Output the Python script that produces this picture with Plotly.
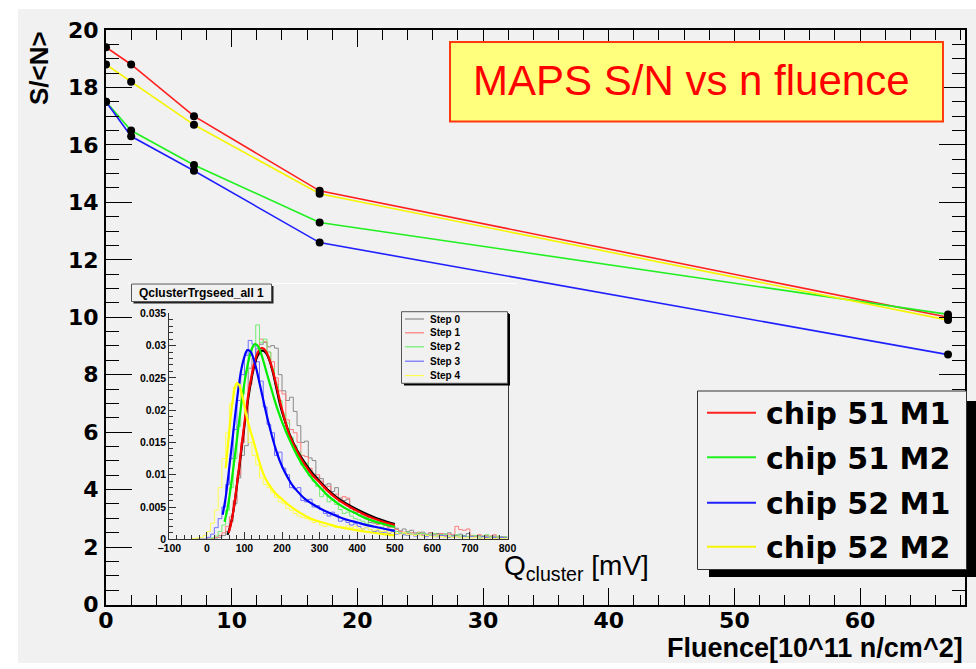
import plotly.graph_objects as go

W, H = 976, 669


def fx(p):
    return p / W


def fy(p):
    return 1 - p / H


# ---------------- main graph: S/<N> vs fluence ----------------
fluence = [0, 2, 7, 17, 67]
sn_chip51_m1 = [19.4, 18.8, 17.0, 14.4, 10.0]
sn_chip51_m2 = [17.5, 16.5, 15.3, 13.3, 10.1]
sn_chip52_m1 = [17.5, 16.3, 15.1, 12.6, 8.7]
sn_chip52_m2 = [18.8, 18.2, 16.7, 14.3, 9.9]

series_names = ["chip 51 M1", "chip 51 M2", "chip 52 M1", "chip 52 M2"]
series_values = [sn_chip51_m1, sn_chip51_m2, sn_chip52_m1, sn_chip52_m2]
series_colors = ["#ff2020", "#20f020", "#2020ff", "#f5f500"]

# ---------------- inset: cluster charge distributions ----------------
step_names = ["Step 0", "Step 1", "Step 2", "Step 3", "Step 4"]
hist_colors = ["#8a8a8a", "#ff7a7a", "#74ec74", "#6f6fff", "#ffff50"]
fit_colors = ["#000000", "#ff0000", "#00ee00", "#0000ff", "#ffff00"]

q_bin_width = 10
q_first_edge = -40
# normalised counts per 10 mV bin (units of 1e-3), bins from -40 to 800 mV
hist_step0 = [0, 0, 0, 0, 0, 0, 0.2,
              0.3, 0.6, 1.2, 2.8, 5.5, 9.5, 13.0,
              14.5, 26.5, 28.0, 29.5, 30.2, 30.5, 29.8, 30.0, 29.6, 25.5,
              23.0, 21.5, 22.0, 19.8, 17.6, 15.0, 15.2, 12.6, 12.2, 9.6,
              9.4, 8.4, 8.6, 7.4, 8.0, 6.4, 6.0, 6.2, 4.8, 4.0,
              4.2, 3.6, 3.4, 2.6, 2.5, 2.4, 2.5, 2.2, 2.0, 2.1,
              1.7, 1.3, 1.6, 1.2, 1.4, 1.0, 0.9, 1.1, 0.8, 1.0,
              0.8, 0.9, 0.7, 0.8, 1.0, 0.7, 0.6, 0.8, 0.5, 0.9,
              0.6, 0.5, 0.6, 0.4, 0.5, 0.4, 0.5, 0.3, 0.4, 0.3]
hist_step1 = [0, 0, 0, 0, 0, 0.1,
              0.3, 0.6, 1.0, 2.0, 3.5, 6.0, 10.0, 15.0,
              19.5, 24.0, 27.0, 28.5, 31.0, 30.6, 29.0, 27.5, 25.0, 23.0,
              22.5, 18.5, 17.0, 16.5, 15.0, 13.0, 12.8, 11.0, 9.8, 10.0,
              9.0, 7.5, 8.2, 6.8, 7.0, 5.8, 6.6, 6.4, 5.0, 4.2,
              4.4, 3.8, 3.2, 3.0, 2.7, 2.3, 2.6, 2.1, 1.8, 1.9,
              1.5, 1.2, 1.1, 0.9, 1.0, 0.8, 1.1, 0.8, 0.7, 1.0,
              0.8, 0.7, 0.9, 0.6, 0.8, 0.7, 2.0, 1.5, 1.4, 1.6,
              0.6, 0.5, 0.7, 0.5, 0.6, 0.5, 0.7, 0.4, 0.3, 0.4]
hist_step2 = [0, 0, 0, 0, 0, 0.2,
              0.5, 1.2, 2.2, 4.5, 8.0, 12.5, 17.5, 22.5,
              26.0, 28.5, 29.8, 33.2, 30.5, 31.0, 29.0, 26.5, 24.0, 21.5,
              19.5, 18.0, 15.8, 14.5, 13.5, 11.5, 11.8, 9.8, 9.0, 8.2,
              6.6, 7.0, 5.8, 6.2, 5.4, 4.6, 4.0, 4.2, 3.6, 3.2,
              3.0, 2.8, 2.5, 2.2, 2.0, 1.8, 1.9, 1.6, 1.4, 1.5,
              1.2, 1.0, 0.9, 1.1, 0.8, 0.7, 1.0, 0.9, 0.7, 0.8,
              0.9, 0.6, 0.7, 0.8, 0.5, 0.6, 0.7, 0.5, 0.6, 0.4,
              0.5, 0.6, 0.4, 0.5, 0.7, 0.4, 0.3, 0.5, 0.3, 0.4]
hist_step3 = [0, 0, 0, 0,
              0.3, 0.8, 1.8, 3.2, 5.0, 8.5, 12.5, 17.0, 21.5, 25.5,
              28.5, 30.8, 30.2, 27.5, 24.5, 20.5, 17.8, 16.5, 13.0, 13.5,
              11.0, 10.0, 8.0, 7.8, 8.0, 6.0, 5.8, 6.2, 5.0, 5.2,
              4.6, 4.0, 3.6, 4.2, 3.8, 2.8, 3.0, 2.6, 2.2, 2.4,
              2.0, 1.6, 1.8, 1.5, 1.2, 1.3, 1.0, 1.1, 0.9, 1.2,
              0.8, 0.9, 0.7, 0.6, 0.8, 0.5, 0.7, 0.6, 0.4, 0.6,
              0.5, 0.4, 0.6, 0.5, 0.3, 0.5, 0.4, 0.3, 0.5, 0.3,
              0.4, 0.3, 0.2, 0.4, 0.3, 0.2, 0.3, 0.2, 0.3, 0.2]
hist_step4 = [0.1, 0.2, 0.3, 0.6,
              1.2, 2.5, 4.5, 8.0, 12.5, 16.5, 21.0, 23.5, 24.0, 21.5,
              18.5, 15.0, 13.0, 11.5, 9.5, 8.5, 8.0, 7.2, 6.5, 5.8,
              5.5, 4.8, 4.5, 4.0, 3.6, 3.4, 3.2, 3.0, 2.6, 2.8,
              2.2, 2.0, 2.3, 2.1, 1.8, 2.0, 1.9, 2.1, 1.8, 2.0,
              1.7, 1.6, 1.8, 1.5, 1.4, 1.5, 1.2, 1.3, 1.0, 1.1,
              0.9, 0.8, 1.0, 0.7, 0.8, 0.6, 0.7, 0.5, 0.6, 0.5,
              0.4, 0.5, 0.4, 0.3, 0.4, 0.3, 0.4, 0.3, 0.2, 0.3,
              0.2, 0.3, 0.2, 0.2, 0.1, 0.2, 0.1, 0.2, 0.1, 0.1]
hists = [hist_step0, hist_step1, hist_step2, hist_step3, hist_step4]

# fitted curves, sampled as (Q [mV], value [1e-3])
fit_step0_q = [55, 62, 70, 78, 86, 94, 102, 110, 118, 126, 134, 142, 150, 158, 166, 175,
               185, 195, 205, 220, 240, 260, 280, 300, 325, 350, 375, 400, 425, 450, 475, 500]
fit_step0_v = [0.7, 2.0, 4.2, 7.5, 11.0, 14.8, 18.5, 21.8, 24.6, 26.8, 28.3, 29.1, 29.2, 28.8,
               27.8, 26.0, 23.4, 20.8, 18.8, 16.3, 13.8, 11.9, 10.3, 9.0, 7.5, 6.3, 5.4, 4.6,
               3.9, 3.3, 2.8, 2.35]
fit_step1_q = [58, 65, 72, 80, 88, 96, 104, 112, 120, 128, 136, 144, 152, 160, 168, 177,
               187, 197, 207, 220, 240, 260, 280, 300, 325, 350, 375, 400, 425, 450, 475, 500]
fit_step1_v = [1.0, 2.6, 5.0, 8.5, 12.3, 16.2, 19.8, 23.0, 25.6, 27.6, 29.0, 29.6, 29.5, 28.8,
               27.6, 25.8, 23.3, 20.8, 18.6, 16.1, 13.6, 11.6, 10.0, 8.8, 7.3, 6.1, 5.2, 4.4,
               3.7, 3.1, 2.6, 2.2]
fit_step2_q = [47, 55, 63, 71, 79, 87, 95, 103, 111, 119, 127, 135, 143, 151, 160, 170,
               180, 190, 200, 220, 240, 260, 280, 300, 325, 350, 375, 400, 425, 450, 475, 500]
fit_step2_v = [2.7, 4.8, 7.8, 11.3, 15.0, 18.8, 22.3, 25.3, 27.7, 29.4, 30.2, 30.0, 29.0, 27.5,
               25.6, 23.6, 21.6, 19.8, 18.2, 15.4, 13.0, 11.0, 9.4, 8.1, 6.6, 5.5, 4.6, 3.9,
               3.2, 2.7, 2.3, 1.9]
fit_step3_q = [42, 50, 57, 64, 71, 78, 85, 92, 100, 108, 116, 124, 132, 140, 150, 160, 170,
               182, 195, 210, 225, 240, 260, 280, 300, 325, 350, 375, 400, 425, 450, 475, 500]
fit_step3_v = [3.8, 6.5, 9.8, 13.4, 17.0, 20.6, 23.8, 26.4, 28.3, 29.3, 29.1, 28.0, 26.3, 24.2,
               21.6, 19.0, 16.7, 14.2, 12.0, 10.1, 8.6, 7.5, 6.3, 5.5, 4.8, 4.1, 3.5, 3.0,
               2.6, 2.2, 1.9, 1.6, 1.3]
fit_step4_q = [50, 55, 60, 65, 70, 75, 80, 85, 90, 97, 104, 112, 120, 128, 136, 145, 155,
               165, 180, 200, 220, 240, 266, 290, 320, 350, 380, 410, 440, 470, 500]
fit_step4_v = [11.0, 14.0, 17.0, 19.8, 22.0, 23.6, 24.2, 24.0, 23.2, 21.5, 19.5, 17.6, 16.0,
               14.4, 12.7, 11.0, 9.5, 8.5, 7.3, 6.2, 5.2, 4.4, 3.5, 2.9, 2.4, 1.9, 1.6, 1.3,
               1.05, 0.8, 0.6]
fits = [(fit_step0_q, fit_step0_v), (fit_step1_q, fit_step1_v), (fit_step2_q, fit_step2_v),
        (fit_step3_q, fit_step3_v), (fit_step4_q, fit_step4_v)]

inset_yticks = [0, 0.005, 0.01, 0.015, 0.02, 0.025, 0.03, 0.035]
inset_yticklabels = ["0", "0.005", "0.01", "0.015", "0.02", "0.025", "0.03", "0.035"]

BOLD_WIDE = "DejaVu Sans"
ARIAL = "Liberation Sans"
BG = "#f1f1f1"

fig = go.Figure()

# main graph lines, then the black points on top
for vals, col, name in zip(series_values, series_colors, series_names):
    fig.add_trace(go.Scatter(x=fluence, y=vals, mode="lines", name=name,
                             line=dict(color=col, width=1.6), showlegend=False,
                             xaxis="x", yaxis="y"))
for vals in series_values:
    fig.add_trace(go.Scatter(x=fluence, y=vals, mode="markers",
                             marker=dict(color="black", size=8), showlegend=False,
                             xaxis="x", yaxis="y"))

# inset histograms (step outlines)
for vals, col, name in zip(hists, hist_colors, step_names):
    edges = [q_first_edge + q_bin_width * i for i in range(len(vals) + 1)]
    ys = [v * 1e-3 for v in vals] + [vals[-1] * 1e-3]
    fig.add_trace(go.Scatter(x=edges, y=ys, mode="lines", line_shape="hv", name=name,
                             line=dict(color=col, width=1), showlegend=False,
                             xaxis="x2", yaxis="y2"))
# inset fitted curves
for (qs, vs), col in zip(fits, fit_colors):
    fig.add_trace(go.Scatter(x=qs, y=[v * 1e-3 for v in vs], mode="lines", line_shape="spline",
                             line=dict(color=col, width=2.2), showlegend=False,
                             xaxis="x2", yaxis="y2"))

shapes = []
annotations = []

# canvas background
shapes.append(dict(type="rect", xref="paper", yref="paper", x0=fx(18), x1=fx(980),
                   y0=fy(663), y1=fy(9), fillcolor=BG, line=dict(width=0), layer="below"))
# faint edge of the embedded inset
shapes.append(dict(type="line", xref="paper", yref="paper", x0=fx(128), x1=fx(517),
                   y0=fy(283.5), y1=fy(283.5), line=dict(color="#ffffff", width=1),
                   layer="below"))

# title box
shapes.append(dict(type="rect", xref="paper", yref="paper", x0=fx(450), x1=fx(943),
                   y0=fy(121.5), y1=fy(42), fillcolor="#ffff7d",
                   line=dict(color="#ff3a10", width=2), layer="above"))
annotations.append(dict(text="MAPS S/N vs n fluence", xref="paper", yref="paper",
                        x=fx(691), y=fy(80), xanchor="center", yanchor="middle",
                        showarrow=False, font=dict(family=ARIAL, size=42, color="#ff0000")))

# main legend with drop shadow
shapes.append(dict(type="rect", xref="paper", yref="paper", x0=fx(709), x1=fx(980),
                   y0=fy(577), y1=fy(401), fillcolor="#000000", line=dict(width=0),
                   layer="above"))
shapes.append(dict(type="rect", xref="paper", yref="paper", x0=fx(697.5), x1=fx(966.5),
                   y0=fy(569.5), y1=fy(391), fillcolor=BG, line=dict(color="#333333", width=1),
                   layer="above"))
legend_rows = [412.7, 457.3, 502.7, 546.7]
for row, col, name in zip(legend_rows, series_colors, series_names):
    shapes.append(dict(type="line", xref="paper", yref="paper", x0=fx(707), x1=fx(756),
                       y0=fy(row), y1=fy(row), line=dict(color=col, width=2), layer="above"))
    annotations.append(dict(text=name, xref="paper", yref="paper", x=fx(764), y=fy(row + 1),
                            xanchor="left", yanchor="middle", showarrow=False,
                            font=dict(family=BOLD_WIDE, size=30, color="black", weight="bold")))

# axis titles
annotations.append(dict(text="S/&lt;N&gt;", xref="paper", yref="paper", x=fx(39), y=fy(68),
                        xanchor="center", yanchor="middle", textangle=-90, showarrow=False,
                        font=dict(family=ARIAL, size=26, color="black", weight="bold")))
annotations.append(dict(text="Fluence[10^11 n/cm^2]", xref="paper", yref="paper",
                        x=fx(965), y=fy(648), xanchor="right", yanchor="middle",
                        showarrow=False,
                        font=dict(family=ARIAL, size=27, color="black", weight="bold")))

# inset title box
shapes.append(dict(type="rect", xref="paper", yref="paper", x0=fx(133.5), x1=fx(273.5),
                   y0=fy(303.5), y1=fy(286), fillcolor="#222222", line=dict(width=0),
                   layer="above"))
shapes.append(dict(type="rect", xref="paper", yref="paper", x0=fx(131.5), x1=fx(271.5),
                   y0=fy(301.5), y1=fy(284), fillcolor=BG, line=dict(color="#555555", width=1),
                   layer="above"))
annotations.append(dict(text="QclusterTrgseed_all 1", xref="paper", yref="paper",
                        x=fx(201.5), y=fy(293), xanchor="center", yanchor="middle",
                        showarrow=False,
                        font=dict(family=ARIAL, size=12, color="black", weight="bold")))

# inset legend
shapes.append(dict(type="rect", xref="paper", yref="paper", x0=fx(404), x1=fx(510),
                   y0=fy(385.5), y1=fy(314), fillcolor="#000000", line=dict(width=0),
                   layer="above"))
shapes.append(dict(type="rect", xref="paper", yref="paper", x0=fx(401.5), x1=fx(507.5),
                   y0=fy(383.3), y1=fy(311.7), fillcolor=BG, line=dict(color="#555555", width=1),
                   layer="above"))
inset_rows = [319.0, 332.8, 346.8, 361.2, 375.6]
for row, col, name in zip(inset_rows, hist_colors, step_names):
    shapes.append(dict(type="line", xref="paper", yref="paper", x0=fx(405), x1=fx(424),
                       y0=fy(row), y1=fy(row), line=dict(color=col, width=1.2), layer="above"))
    annotations.append(dict(text=name, xref="paper", yref="paper", x=fx(428), y=fy(row),
                            xanchor="left", yanchor="middle", showarrow=False,
                            font=dict(family=ARIAL, size=10, color="black", weight="bold")))

# inset x-axis caption
annotations.append(dict(text="Q<sub>cluster</sub> [mV]", xref="paper", yref="paper",
                        x=fx(502), y=fy(567), xanchor="left", yanchor="middle",
                        showarrow=False, font=dict(family=ARIAL, size=28, color="black")))

main_tickfont = dict(family=BOLD_WIDE, size=22, color="black", weight="bold")
inset_tickfont = dict(family=ARIAL, size=10.5, color="black", weight="bold")

fig.update_layout(
    width=W, height=H, autosize=False,
    margin=dict(l=0, r=0, t=0, b=0, pad=0, autoexpand=False),
    paper_bgcolor="white", plot_bgcolor="rgba(0,0,0,0)",
    showlegend=False,
    xaxis=dict(domain=[fx(106), fx(965)], range=[0, 68.35], anchor="y", automargin=False,
               showline=True, linecolor="black", linewidth=2, mirror="ticks",
               ticks="inside", ticklen=17, tickwidth=1.3, tickcolor="black",
               tick0=0, dtick=10, showgrid=False, zeroline=False,
               minor=dict(ticks="inside", ticklen=10, tickwidth=1.3, tickcolor="black",
                          dtick=2, showgrid=False),
               tickfont=main_tickfont, ticklabelstandoff=-5),
    yaxis=dict(domain=[fy(604.5), fy(30)], range=[0, 20], anchor="x", automargin=False,
               showline=True, linecolor="black", linewidth=2, mirror="ticks",
               ticks="inside", ticklen=26, tickwidth=1.3, tickcolor="black",
               tick0=0, dtick=2, showgrid=False, zeroline=False,
               minor=dict(ticks="inside", ticklen=13, tickwidth=1.3, tickcolor="black",
                          dtick=0.5, showgrid=False),
               tickfont=main_tickfont, ticklabelstandoff=1),
    xaxis2=dict(domain=[fx(169.3), fx(507.5)], range=[-100, 800], anchor="y2",
                automargin=False,
                showline=True, linecolor="#333333", linewidth=1, mirror=False,
                ticks="inside", ticklen=7, tickwidth=1, tickcolor="#333333",
                tick0=0, dtick=100, showgrid=False, zeroline=False,
                minor=dict(ticks="inside", ticklen=4, tickwidth=1, tickcolor="#333333",
                           dtick=20, showgrid=False),
                tickfont=inset_tickfont, ticklabelstandoff=-1),
    yaxis2=dict(domain=[fy(539.3), fy(313.3)], range=[0, 0.035], anchor="x2",
                automargin=False,
                showline=True, linecolor="#333333", linewidth=1, mirror=True,
                ticks="inside", ticklen=7, tickwidth=1, tickcolor="#333333",
                tickvals=inset_yticks, ticktext=inset_yticklabels,
                showgrid=False, zeroline=False,
                minor=dict(ticks="inside", ticklen=4, tickwidth=1, tickcolor="#333333",
                           dtick=0.001, showgrid=False),
                tickfont=inset_tickfont, ticklabelstandoff=0),
    shapes=shapes,
    annotations=annotations,
)

fig.write_html("out.html")
